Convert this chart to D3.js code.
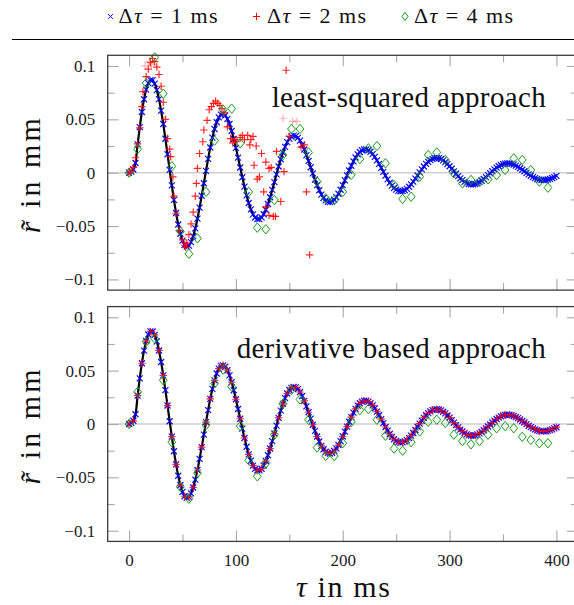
<!DOCTYPE html>
<html>
<head>
<meta charset="utf-8">
<script src="https://cdn.jsdelivr.net/npm/d3@7"></script>
<style>
  html, body { margin: 0; padding: 0; background: #fff; }
  svg { display: block; }
</style>
</head>
<body>
<svg id="chart" width="574" height="605"></svg>
<script>
// ---------------------------------------------------------------------------
// Data
// ---------------------------------------------------------------------------

// Reference displacement r(τ) in mm, sampled every 2 ms from 0 to 400 ms.
const refTau = d3.range(0, 401, 2);
const refR = [
  0, 0.001, 0.003, 0.0091, 0.0266, 0.0427, 0.0569, 0.0688, 0.0778, 0.0839,
  0.0868, 0.0867, 0.0835, 0.0774, 0.0689, 0.0581, 0.0456, 0.0318, 0.0173, 0.0026,
  -0.0119, -0.0255, -0.0378, -0.0485, -0.0572, -0.0636, -0.0677, -0.0692, -0.0683, -0.0650,
  -0.0595, -0.0521, -0.0431, -0.0327, -0.0216, -0.0099, 0.0017, 0.0130, 0.0236, 0.0329,
  0.0409, 0.0473, 0.0519, 0.0544, 0.0550, 0.0536, 0.0504, 0.0456, 0.0391, 0.0316,
  0.0232, 0.0141, 0.0049, -0.0043, -0.0131, -0.0213, -0.0284, -0.0343, -0.0390, -0.0420,
  -0.0435, -0.0435, -0.0419, -0.0389, -0.0347, -0.0293, -0.0230, -0.0161, -0.0089, -0.0015,
  0.0058, 0.0126, 0.0188, 0.0242, 0.0286, 0.0319, 0.0339, 0.0347, 0.0343, 0.0327,
  0.0300, 0.0262, 0.0217, 0.0165, 0.0110, 0.0051, -0.0007, -0.0064, -0.0117, -0.0164,
  -0.0205, -0.0237, -0.0260, -0.0273, -0.0276, -0.0269, -0.0253, -0.0229, -0.0197, -0.0160,
  -0.0117, -0.0072, -0.0025, 0.0021, 0.0065, 0.0106, 0.0142, 0.0172, 0.0194, 0.0210,
  0.0218, 0.0218, 0.0210, 0.0195, 0.0174, 0.0148, 0.0116, 0.0082, 0.0045, 0.0008,
  -0.0028, -0.0062, -0.0094, -0.0121, -0.0143, -0.0159, -0.0170, -0.0174, -0.0172, -0.0164,
  -0.0151, -0.0132, -0.0109, -0.0084, -0.0056, -0.0026, 0.0003, 0.0031, 0.0058, 0.0082,
  0.0102, 0.0118, 0.0130, 0.0136, 0.0138, 0.0136, 0.0128, 0.0115, 0.0099, 0.0080,
  0.0060, 0.0037, 0.0013, -0.0010, -0.0032, -0.0053, -0.0070, -0.0086, -0.0097, -0.0106,
  -0.0109, -0.0110, -0.0106, -0.0099, -0.0088, -0.0075, -0.0059, -0.0041, -0.0023, -0.0005,
  0.0014, 0.0031, 0.0047, 0.0060, 0.0072, 0.0080, 0.0085, 0.0087, 0.0087, 0.0083,
  0.0075, 0.0066, 0.0055, 0.0042, 0.0028, 0.0014, -0.0001, -0.0016, -0.0029, -0.0041,
  -0.0051, -0.0059, -0.0065, -0.0068, -0.0069, -0.0068, -0.0064, -0.0058, -0.0050, -0.0041,
  -0.0030
];

// Δτ = 1 ms estimates (both approaches follow the reference closely).
const blueTau = refTau;
const blueTopR = refR;
const blueBottomR = refR;

// Δτ = 2 ms, least-squared approach (scattered, diverges after ~60 ms).
const redTopTau = [
  0, 2, 4, 6, 8, 10, 12, 13, 16, 18, 20, 22, 24, 26, 28, 30, 32, 34, 36, 38,
  39, 41, 42, 44, 47, 50, 52, 53, 54, 56, 58, 60, 62, 63, 64, 66, 69, 70, 73, 75,
  77, 79, 81, 83, 85, 87, 89, 92, 95, 97, 99, 101, 104, 106, 108, 111, 113, 114, 116, 117,
  119, 120, 122, 124, 126, 128, 128, 131, 131, 133, 135, 137, 138, 142, 145, 147, 150, 161, 164, 166,
  169
];
const redTopR = [
  0, 0.001, 0.005, 0.014, 0.027, 0.042, 0.062, 0.076, 0.090, 0.097, 0.103, 0.107, 0.104, 0.099, 0.092, 0.081, 0.066, 0.050, 0.032, 0.022,
  0.015, -0.004, -0.022, -0.038, -0.054, -0.063, -0.068, -0.070, -0.066, -0.058, -0.048, -0.037, -0.022, -0.010, 0.004, 0.018, 0.029, 0.040, 0.049, 0.059,
  0.062, 0.065, 0.067, 0.065, 0.063, 0.060, 0.056, 0.043, 0.032, 0.028, 0.031, 0.029, 0.033, 0.035, 0.031, 0.035, 0.026, 0.031, 0.034, 0.007,
  0.025, -0.006, -0.004, 0.018, -0.018, 0.010, -0.032, 0.004, -0.040, 0.005, -0.041, -0.041, 0.020, -0.027, 0.001, 0.096, 0.034, 0.024, 0.026, -0.018,
  -0.077
];
// Low-weight estimates of the same run, drawn faintly.
const redFaintTau = [15, 19, 21, 144, 153, 157];
const redFaintR = [0.100, 0.104, 0.101, 0.051, 0.048, 0.048];

// Δτ = 2 ms, derivative based approach: on the reference, every 4 ms.
const redBottomTau = refTau.filter((t, i) => i % 2 === 0);
const redBottomR = refR.filter((r, i) => i % 2 === 0);

// Δτ = 4 ms estimates, marked every 8 ms.
const greenTau = d3.range(0, 393, 8);
const greenTopR = [
  0, 0.022, 0.084, 0.108, 0.074, 0.006, -0.055, -0.076, -0.0615, -0.018,
  0.030, 0.059, 0.060, 0.0275, -0.018, -0.0515, -0.053, -0.0256, 0.0166, 0.041,
  0.041, 0.019, -0.0084, -0.024, -0.0256, -0.018, -0.002, 0.0128, 0.0228, 0.025,
  0.0088, -0.0115, -0.0246, -0.0225, -0.0037, 0.0166, 0.019, 0.012, -0.0006, -0.010,
  -0.0068, -0.0084, -0.0062, -0.0022, 0.0025, 0.0135, 0.012, 0.0025, -0.0084, -0.014
];
const greenBottomR = [
  0, 0.030, 0.077, 0.080, 0.041, -0.017, -0.059, -0.070, -0.046, -0.001,
  0.038, 0.051, 0.035, -0.002, -0.034, -0.049, -0.037, -0.010, 0.019, 0.032,
  0.023, 0.004, -0.022, -0.030, -0.030, -0.018, 0.002, 0.013, 0.014, 0.004,
  -0.011, -0.023, -0.025, -0.017, -0.007, 0.002, 0.004, 0.001, -0.010, -0.016,
  -0.019, -0.016, -0.010, -0.004, -0.002, -0.004, -0.012, -0.015, -0.018, -0.018
];

// Axes
const xMajorTicks = [0, 100, 200, 300, 400];
const xMinorTicks = [50, 150, 250, 350];
const xTickLabels = ["0", "100", "200", "300", "400"];
const yMajorTicks = [-0.1, -0.05, 0, 0.05, 0.1];
const yMinorTicks = [-0.075, -0.025, 0.025, 0.075];
const yTickLabels = ["\u22120.1", "\u22120.05", "0", "0.05", "0.1"];

const legendLabels = ["1", "2", "4"];
const panelTitles = ["least-squared approach", "derivative based approach"];

// ---------------------------------------------------------------------------
// Layout & styles
// ---------------------------------------------------------------------------
const FONT = "'Liberation Serif', 'DejaVu Serif', serif";
const COL = { blue: "#0a0aff", red: "#ff0000", green: "#159a15" };
const svg = d3.select("#chart");

const x = d3.scaleLinear().domain([-20, 420]).range([107.7, 577.8]);
const panels = [
  { top: 55.3, bottom: 290.1, title: panelTitles[0], tx: 271.7, ty: 106.7, tw: 274 },
  { top: 306.6, bottom: 541.4, title: panelTitles[1], tx: 236.7, ty: 358.3, tw: 309 }
];

// Marker glyphs
function crossX(sel, s) {
  return sel.attr("d", d => `M${d[0]-s},${d[1]-s}L${d[0]+s},${d[1]+s}M${d[0]-s},${d[1]+s}L${d[0]+s},${d[1]-s}`);
}
function plus(sel, s) {
  return sel.attr("d", d => `M${d[0]-s},${d[1]}H${d[0]+s}M${d[0]},${d[1]-s}V${d[1]+s}`);
}
function diamond(sel, w, h) {
  return sel.attr("d", d => `M${d[0]},${d[1]-h}L${d[0]+w},${d[1]}L${d[0]},${d[1]+h}L${d[0]-w},${d[1]}Z`);
}

// ---------------------------------------------------------------------------
// Legend
// ---------------------------------------------------------------------------
const legend = svg.append("g").attr("class", "legend");
legend.append("line").attr("x1", 12).attr("x2", 574).attr("y1", 39.5).attr("y2", 39.5)
  .attr("stroke", "#000").attr("stroke-width", 1.1);

const legendItems = [
  { mx: 110.5, tx: 118.5, color: COL.blue, kind: "x" },
  { mx: 256.5, tx: 267, color: COL.red, kind: "+" },
  { mx: 405, tx: 414, color: COL.green, kind: "d" }
];
legendItems.forEach((it, i) => {
  const p = legend.append("path").datum([it.mx, 16.5])
    .attr("fill", "none").attr("stroke", it.color).attr("stroke-width", 1);
  if (it.kind === "x") crossX(p, 2.4);
  else if (it.kind === "+") plus(p, 3.6);
  else diamond(p, 3, 4.2);
  const t = legend.append("text").attr("x", it.tx).attr("y", 22.7)
    .attr("font-family", FONT).attr("font-size", 22).attr("fill", "#111")
    .attr("textLength", 99).attr("lengthAdjust", "spacing");
  t.append("tspan").text("\u0394");
  t.append("tspan").attr("font-style", "italic").text("\u03C4");
  t.append("tspan").text(" = " + legendLabels[i] + " ms");
});

// ---------------------------------------------------------------------------
// Panels
// ---------------------------------------------------------------------------
const line = d3.line().curve(d3.curveCatmullRom);

panels.forEach((P, pi) => {
  const y = d3.scaleLinear().domain([-0.11, 0.11]).range([P.bottom, P.top]);
  const g = svg.append("g");
  const L = x.range()[0], R = x.range()[1];

  // zero reference line
  g.append("line").attr("x1", L).attr("x2", R).attr("y1", y(0)).attr("y2", y(0))
    .attr("stroke", "#cfcfcf").attr("stroke-width", 1.6);

  // ticks (inside, on all four sides)
  const tickStyle = sel => {
    sel.select(".domain").remove();
    sel.selectAll(".tick line").attr("stroke", "#a8a8a8").attr("stroke-width", 1.1);
  };
  const axes = [
    [() => d3.axisBottom(x), `translate(0,${P.bottom})`, xMajorTicks, xMinorTicks],
    [() => d3.axisTop(x), `translate(0,${P.top})`, xMajorTicks, xMinorTicks],
    [() => d3.axisLeft(y), `translate(${L},0)`, yMajorTicks, yMinorTicks],
    [() => d3.axisRight(y), `translate(${R},0)`, yMajorTicks, yMinorTicks]
  ];
  axes.forEach(([mk, tr, major, minor], ai) => {
    const axMinor = mk().tickValues(minor).tickSize(-7).tickFormat(() => "");
    g.append("g").attr("transform", tr).call(axMinor).call(tickStyle);
    let fmt = () => "";
    if (ai === 2) fmt = v => yTickLabels[yMajorTicks.indexOf(v)];
    if (ai === 0 && pi === 1) fmt = v => xTickLabels[xMajorTicks.indexOf(v)];
    const axMajor = mk().tickValues(major).tickSize(-11).tickFormat(fmt)
      .tickPadding(ai === 2 ? 12.5 : 13);
    const ga = g.append("g").attr("transform", tr).call(axMajor).call(tickStyle);
    ga.selectAll("text").attr("font-family", FONT).attr("font-size", 17).attr("fill", "#1a1a1a");
  });

  // reference curve
  g.append("path")
    .attr("d", line(refTau.map((t, i) => [x(t), y(refR[i])])))
    .attr("fill", "none").attr("stroke", "#000").attr("stroke-width", 2.2);

  // Δτ = 1 ms
  const bR = pi === 0 ? blueTopR : blueBottomR;
  g.append("g").selectAll("path").data(blueTau.map((t, i) => [x(t), y(bR[i])]))
    .join("path").call(crossX, 3)
    .attr("fill", "none").attr("stroke", COL.blue).attr("stroke-width", 1.2);

  // Δτ = 2 ms
  const redPts = pi === 0
    ? redTopTau.map((t, i) => [x(t), y(redTopR[i])])
    : redBottomTau.map((t, i) => [x(t), y(redBottomR[i])]);
  if (pi === 0) {
    g.append("g").selectAll("path").data(redFaintTau.map((t, i) => [x(t), y(redFaintR[i])]))
      .join("path").call(plus, 3.7)
      .attr("fill", "none").attr("stroke", COL.red).attr("stroke-width", 1.2).attr("stroke-opacity", 0.3);
  }
  g.append("g").selectAll("path").data(redPts)
    .join("path").call(plus, 3.7)
    .attr("fill", "none").attr("stroke", COL.red).attr("stroke-width", 1.2).attr("stroke-opacity", 0.85);

  // Δτ = 4 ms
  const gR = pi === 0 ? greenTopR : greenBottomR;
  g.append("g").selectAll("path").data(greenTau.map((t, i) => [x(t), y(gR[i])]))
    .join("path").call(diamond, 3.9, 4.7)
    .attr("fill", "none").attr("stroke", COL.green).attr("stroke-width", 1);

  // frame
  g.append("rect").attr("x", L).attr("y", P.top).attr("width", R - L).attr("height", P.bottom - P.top)
    .attr("fill", "none").attr("stroke", "#3c3c3c").attr("stroke-width", 1.3);

  // panel title
  g.append("text").attr("x", P.tx).attr("y", P.ty)
    .attr("font-family", FONT).attr("font-size", 29).attr("fill", "#111")
    .attr("textLength", P.tw).attr("lengthAdjust", "spacing")
    .text(P.title);

  // y axis label
  const yl = g.append("text")
    .attr("transform", `translate(40,${(P.top + P.bottom) / 2 + 3}) rotate(-90)`)
    .attr("text-anchor", "middle")
    .attr("font-family", FONT).attr("font-size", 30).attr("fill", "#111")
    .attr("textLength", 115).attr("lengthAdjust", "spacing");
  yl.append("tspan").attr("font-style", "italic").text("r\u0303");
  yl.append("tspan").text(" in mm");
});

// x axis label
const xl = svg.append("text").attr("x", 343).attr("y", 597).attr("text-anchor", "middle")
  .attr("font-family", FONT).attr("font-size", 30).attr("fill", "#111")
  .attr("textLength", 94).attr("lengthAdjust", "spacing");
xl.append("tspan").attr("font-style", "italic").text("\u03C4");
xl.append("tspan").text(" in ms");
</script>
</body>
</html>
